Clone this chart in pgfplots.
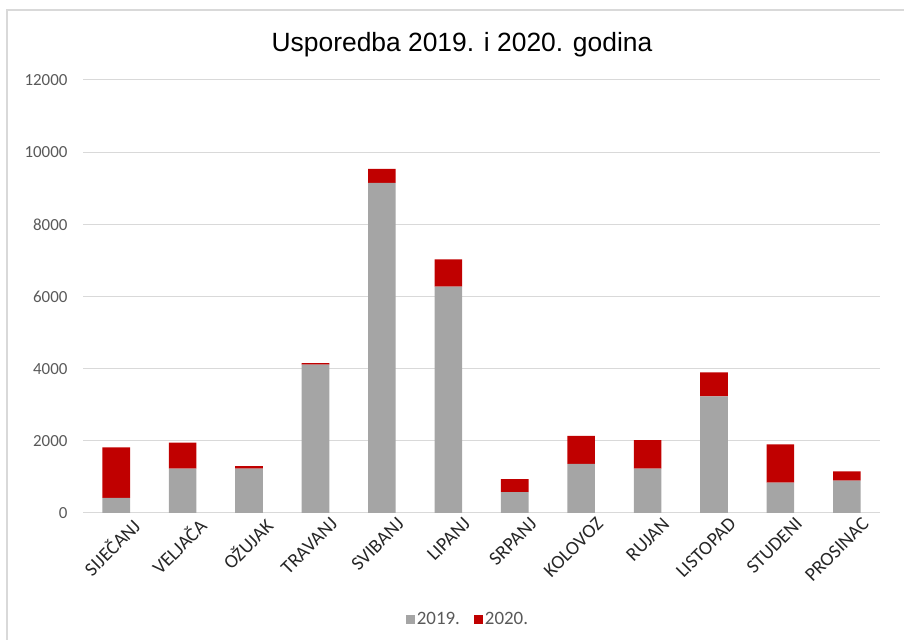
\documentclass[border=0pt]{standalone}
\usepackage{fontspec}
\setmainfont{Carlito}
\newfontfamily\titlefont{Liberation Sans}
\usepackage{pgfplots}
\pgfplotsset{compat=1.18}
\definecolor{g19}{HTML}{A5A5A5}
\definecolor{r20}{HTML}{C00000}
\definecolor{gridc}{HTML}{D9D9D9}
\definecolor{tickc}{HTML}{595959}
\definecolor{labc}{HTML}{262626}

\begin{document}
\begin{tikzpicture}[x=1bp,y=1bp]
\useasboundingbox (0,0) rectangle (904,640);
% chart frame (only top and left edges visible)
\draw[gridc, line width=1.5bp] (7,-5) -- (7,630) -- (910,630);
\node[font=\titlefont\fontsize{26.5}{30}\selectfont, text=black] at (462,595) {Usporedba 2019. i 2020. godina};
\begin{axis}[
  at={(83bp,127bp)}, anchor=south west,
  scale only axis, width=797bp, height=433bp,
  ybar stacked, bar width=27.6bp,
  xmin=-0.5, xmax=11.5, ymin=0, ymax=12000,
  ytick={0,2000,...,12000},
  scaled y ticks=false,
  xtick=data,
  xticklabels={SIJEČANJ,VELJAČA,OŽUJAK,TRAVANJ,SVIBANJ,LIPANJ,SRPANJ,KOLOVOZ,RUJAN,LISTOPAD,STUDENI,PROSINAC},
  axis line style={draw=none},
  major tick length=0pt,
  ymajorgrids, grid style={gridc, line width=1bp},
  /pgf/number format/assume math mode=true,
  /pgf/number format/1000 sep={},
  yticklabel style={font=\fontsize{17}{20}\selectfont, text=tickc, xshift=-12bp},
  xticklabel style={font=\fontsize{19.5}{22}\selectfont, text=labc, rotate=45, anchor=north east, xshift=11bp, yshift=-9bp},
  legend style={at={(0.483,-0.245)}, anchor=center, draw=none, fill=none,
    legend columns=2, font=\fontsize{19}{22}\selectfont, text=tickc,
    /tikz/every even column/.append style={column sep=12bp}},
  legend image code/.code={\fill[#1,draw=none] (0bp,-4.5bp) rectangle (9bp,4.5bp);},
]
\addplot[fill=g19, draw=none] coordinates {
  (0,420) (1,1230) (2,1230) (3,4110) (4,9150) (5,6270)
  (6,580) (7,1360) (8,1230) (9,3230) (10,840) (11,895)
};
\addlegendentry{2019.}
\addplot[fill=r20, draw=none] coordinates {
  (0,1400) (1,720) (2,70) (3,40) (4,390) (5,760)
  (6,360) (7,780) (8,790) (9,670) (10,1060) (11,260)
};
\addlegendentry{2020.}
\end{axis}
\end{tikzpicture}
\end{document}
